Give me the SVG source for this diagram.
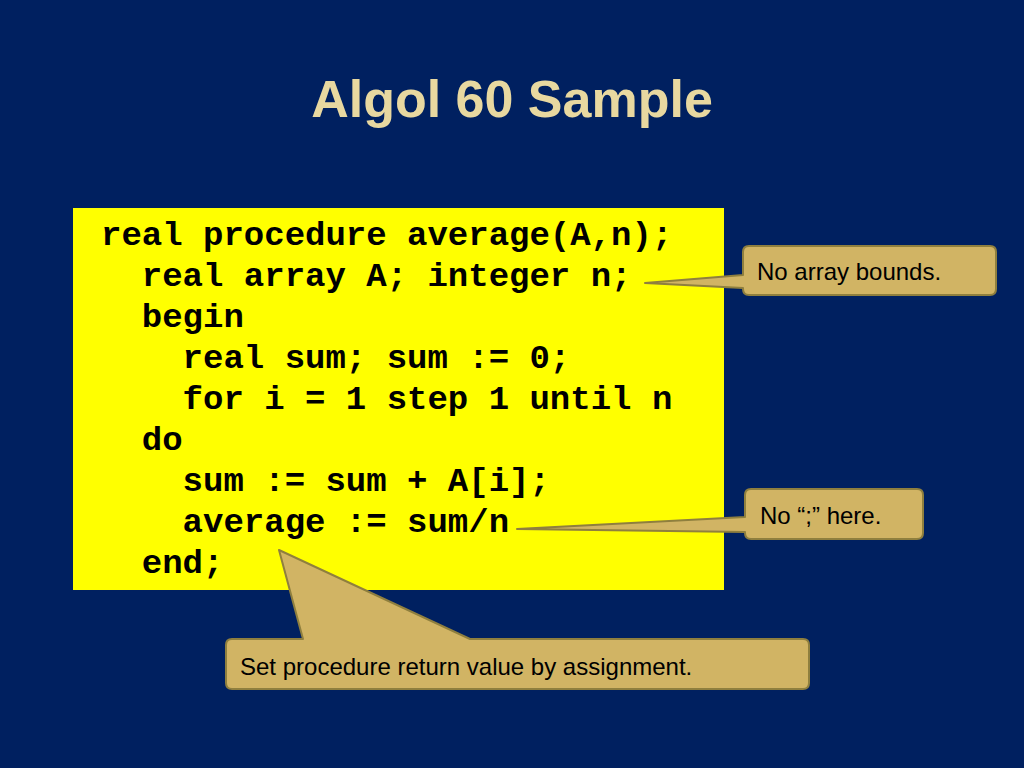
<svg xmlns="http://www.w3.org/2000/svg" width="1024" height="768" viewBox="0 0 1024 768">
<style>
.code{font-family:"Liberation Mono","Courier New",monospace;font-weight:bold;font-size:34px;fill:#000}
.co{fill:#D1B464;stroke:#8F7F3E;stroke-width:2;stroke-linejoin:round}
.ct{font-family:"Liberation Sans",Arial,sans-serif;font-size:24px;fill:#000}
</style>
<rect width="1024" height="768" fill="#002060"/>
<text x="512" y="117" text-anchor="middle" font-family="Liberation Sans,Arial,sans-serif" font-weight="bold" font-size="52" fill="#E8D8A0">Algol 60 Sample</text>
<g id="code">
<rect x="73" y="208" width="651" height="382" fill="#FFFF00"/>
<text class="code" xml:space="preserve"><tspan x="101" y="245">real procedure average(A,n);</tspan><tspan x="101" y="286">  real array A; integer n;</tspan><tspan x="101" y="327">  begin</tspan><tspan x="101" y="368">    real sum; sum := 0;</tspan><tspan x="101" y="409">    for i = 1 step 1 until n</tspan><tspan x="101" y="450">  do</tspan><tspan x="101" y="491">    sum := sum + A[i];</tspan><tspan x="101" y="532">    average := sum/n</tspan><tspan x="101" y="573">  end;</tspan></text>
</g>
<g id="connectors">
<path class="co" d="M749,246 H990 Q996,246 996,252 V289 Q996,295 990,295 H749 Q743,295 743,289 V288 L645,283 L743,275 V252 Q743,246 749,246 Z"/>
<path class="co" d="M751,489 H917 Q923,489 923,495 V533 Q923,539 917,539 H751 Q745,539 745,533 V532 L517,529 L745,517 V495 Q745,489 751,489 Z"/>
<path class="co" d="M232,639 H303 L279,550 L470,639 H803 Q809,639 809,645 V683 Q809,689 803,689 H232 Q226,689 226,683 V645 Q226,639 232,639 Z"/>
</g>
<g id="callout1"><text class="ct" x="757" y="280">No array bounds.</text></g>
<g id="callout2"><text class="ct" x="760" y="524">No “;” here.</text></g>
<g id="callout3"><text class="ct" x="240" y="675">Set procedure return value by assignment.</text></g>
</svg>
